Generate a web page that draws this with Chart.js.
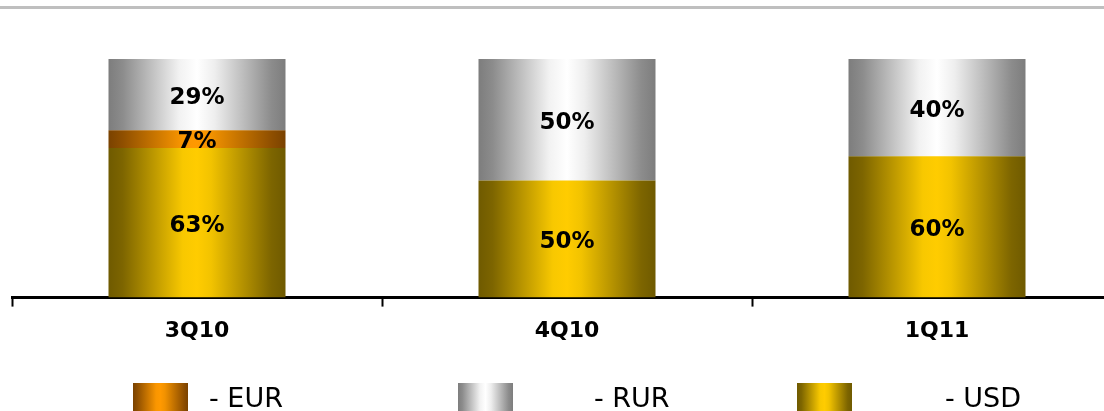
<!DOCTYPE html>
<html><head><meta charset="utf-8">
<script src="https://cdn.jsdelivr.net/npm/chart.js@4.4.1/dist/chart.umd.min.js"></script>
<style>
html,body{margin:0;padding:0;background:#fff;overflow:hidden;width:1104px;height:411px;}
#wrap{position:relative;width:1104px;height:411px;overflow:hidden;}
#rule{position:absolute;left:0;top:6px;width:1104px;height:3px;background:#bfbfbf;}
canvas{position:absolute;left:0;top:0;}
</style></head><body>
<div id="wrap"><div id="rule"></div><canvas id="c" width="1134" height="411"></canvas></div>
<script>
const categories = ['3Q10', '4Q10', '1Q11'];
const usdValues = [62.7, 49.1, 59.2];
const eurValues = [7.4, 0, 0];
const rurValues = [29.9, 50.9, 40.8];
const usdLabels = ['63%', '50%', '60%'];
const eurLabels = ['7%', '', ''];
const rurLabels = ['29%', '50%', '40%'];
const legendOrder = ['EUR', 'RUR', 'USD'];

const usdStops = [[0, '#6f5a00'], [0.08, '#7d6500'], [0.42, '#f8c800'], [0.5, '#ffcc00'], [0.58, '#f2c300'], [0.92, '#7d6500'], [1, '#6f5a00']];
const eurStops = [[0, '#7a4200'], [0.08, '#8f4f00'], [0.42, '#fa9600'], [0.5, '#ff9900'], [0.58, '#f29200'], [0.92, '#8f4f00'], [1, '#7a4200']];
const rurStops = [[0, '#7d7d7d'], [0.08, '#8c8c8c'], [0.4, '#f2f2f2'], [0.5, '#ffffff'], [0.6, '#eeeeee'], [0.92, '#8c8c8c'], [1, '#7d7d7d']];

const BAR_FRAC = 177 / 370;

function gradFor(ctx, x0, x1, stops) {
  const g = ctx.createLinearGradient(x0, 0, x1, 0);
  stops.forEach(s => g.addColorStop(s[0], s[1]));
  return g;
}
function barFill(stops) {
  return function (c) {
    const chart = c.chart;
    const xs = chart.scales && chart.scales.x;
    if (!xs || !chart.chartArea || c.dataIndex === undefined) return stops[3][1];
    const cx = xs.getPixelForValue(c.dataIndex);
    const half = (xs.width / categories.length) * BAR_FRAC / 2;
    return gradFor(chart.ctx, cx - half, cx + half, stops);
  };
}

const segLabelPlugin = {
  id: 'segLabels',
  afterDatasetsDraw(chart) {
    const ctx = chart.ctx;
    ctx.save();
    ctx.font = 'bold 23px "DejaVu Sans"';
    ctx.textAlign = 'center';
    ctx.textBaseline = 'middle';
    ctx.fillStyle = '#000';
    chart.data.datasets.forEach((ds, i) => {
      const meta = chart.getDatasetMeta(i);
      meta.data.forEach((el, j) => {
        const t = ds.segLabels[j];
        if (!t) return;
        const p = el.getProps(['x', 'y', 'base'], true);
        ctx.fillText(t, p.x, (p.y + p.base) / 2 + 3);
      });
    });
    ctx.restore();
  }
};

const legendPlugin = {
  id: 'customLegend',
  afterDraw(chart, args, opts) {
    const ctx = chart.ctx;
    ctx.save();
    ctx.font = '27px "DejaVu Sans"';
    ctx.textAlign = 'left';
    ctx.textBaseline = 'alphabetic';
    opts.items.forEach(it => {
      const ds = chart.data.datasets.find(d => d.label === it.label);
      ctx.fillStyle = gradFor(ctx, it.box, it.box + opts.boxW, ds.stops);
      ctx.fillRect(it.box, opts.boxY, opts.boxW, opts.boxH);
      ctx.fillStyle = '#000';
      ctx.fillText('- ' + it.label, it.text, opts.textY);
    });
    ctx.restore();
  }
};

new Chart(document.getElementById('c'), {
  type: 'bar',
  data: {
    labels: categories,
    datasets: [
      { label: 'USD', data: usdValues, segLabels: usdLabels, stops: usdStops, backgroundColor: barFill(usdStops), borderWidth: 0 },
      { label: 'EUR', data: eurValues, segLabels: eurLabels, stops: eurStops, backgroundColor: barFill(eurStops), borderWidth: 0 },
      { label: 'RUR', data: rurValues, segLabels: rurLabels, stops: rurStops, backgroundColor: barFill(rurStops), borderWidth: 0 }
    ]
  },
  options: {
    responsive: false,
    animation: false,
    devicePixelRatio: 1,
    layout: { padding: { left: 12, right: 12, top: 59, bottom: 56 } },
    datasets: { bar: { categoryPercentage: 1, barPercentage: BAR_FRAC } },
    scales: {
      x: {
        stacked: true,
        grid: { display: true, drawOnChartArea: false, drawTicks: true, tickLength: 9, tickWidth: 2, tickColor: '#000', offset: true },
        border: { display: true, color: '#000', width: 3 },
        ticks: { color: '#000', font: { family: 'DejaVu Sans', size: 22, weight: 'bold' }, padding: 11 }
      },
      y: { stacked: true, display: false, min: 0, max: 100 }
    },
    plugins: {
      legend: { display: false },
      tooltip: { enabled: false },
      customLegend: {
        boxW: 55, boxH: 28, boxY: 383, textY: 407,
        items: [
          { label: legendOrder[0], box: 133, text: 209 },
          { label: legendOrder[1], box: 458, text: 594 },
          { label: legendOrder[2], box: 797, text: 945 }
        ]
      }
    }
  },
  plugins: [segLabelPlugin, legendPlugin]
});
</script>
</body></html>
